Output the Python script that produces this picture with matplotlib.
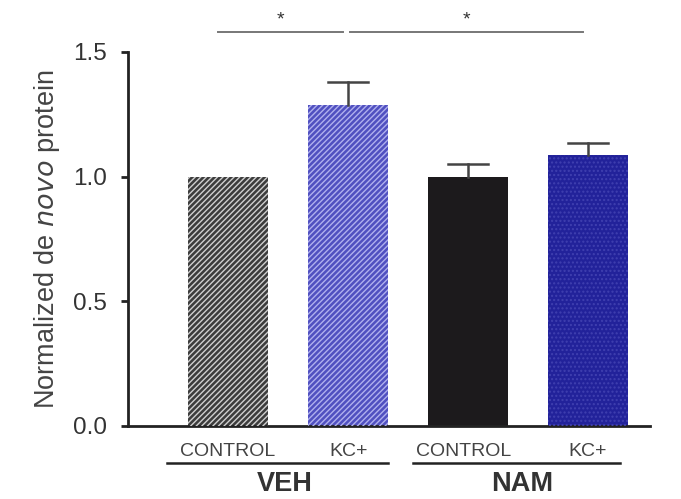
import matplotlib.pyplot as plt
import matplotlib.transforms as mtransforms

plt.rcParams['font.family'] = ['Liberation Sans', 'DejaVu Sans']

conditions = ["CONTROL", "KC+", "CONTROL", "KC+"]
groups = ["VEH", "NAM"]
values = [1.0, 1.288, 1.0, 1.087]
errors = [0.0, 0.092, 0.052, 0.048]
sig_pairs = [(0, 1), (1, 3)]

fig = plt.figure(figsize=(6.81, 4.99), dpi=100)
ax = fig.add_axes([128/681, (499-426)/499, (650-128)/681, (426-52)/499])

face = ['#3c3c3c', '#5050c0', '#1c1a1c', '#22229a']
hatches = ['//////', '//////', None, '....']
hatch_cols = ['#d0d0d0', '#b0b0ee', None, '#4040b0']
x = list(range(len(values)))
for i in x:
    ax.bar(i, values[i], width=0.667, color=face[i], linewidth=0, zorder=2)
    if hatches[i]:
        ax.bar(i, values[i], width=0.667, color='none', edgecolor=hatch_cols[i],
               hatch=hatches[i], linewidth=0, zorder=3)
    if errors[i] > 0:
        top = values[i] + errors[i]
        ax.plot([i, i], [values[i], top], color='#444444', lw=1.8, zorder=4)
        ax.plot([i - 0.17, i + 0.17], [top, top], color='#444444', lw=1.8, zorder=4)

ax.set_xlim(-0.833, 3.517)
ax.set_ylim(0, 1.5)
ax.set_yticks([0.0, 0.5, 1.0, 1.5])
ax.set_yticklabels(['0.0', '0.5', '1.0', '1.5'], fontsize=17.5, color='#333333')
ax.set_xticks([])
for s in ['top', 'right']:
    ax.spines[s].set_visible(False)
for s in ['left', 'bottom']:
    ax.spines[s].set_linewidth(2.0)
    ax.spines[s].set_color('#222222')
ax.tick_params(axis='y', length=5, width=2.0, color='#222222', pad=10)
ax.set_ylabel('Normalized de $\\it{novo}$ protein', fontsize=19.5, color='#444444', labelpad=8)

trans = mtransforms.blended_transform_factory(ax.transData, fig.transFigure)
def fy(py):
    return (499 - py) / 499
def dx(px):
    return (px - 228) / 120

label_px = [228, 349, 464, 588]
for i, c in enumerate(conditions):
    ax.text(dx(label_px[i]), fy(451), c, transform=trans, ha='center', va='center',
            fontsize=14, color='#444444', clip_on=False)
underl = [(167, 388), (413, 620)]
group_px = [285, 522]
for g in range(len(groups)):
    ax.plot([dx(underl[g][0]), dx(underl[g][1])], [fy(463), fy(463)], transform=trans,
            color='#222222', lw=1.8, clip_on=False)
    ax.text(dx(group_px[g]), fy(484), groups[g], transform=trans, ha='center', va='center',
            fontsize=19.5, color='#333333', fontweight='bold', clip_on=False)

sig_x = [(218, 343), (350, 583)]
for (a, b), (px0, px1) in zip(sig_pairs, sig_x):
    xa, xb = dx(px0), dx(px1)
    ax.plot([xa, xb], [fy(32), fy(32)], transform=trans, color='#777777', lw=1.4, clip_on=False)
    ax.text((xa + xb) / 2, fy(20), '*', transform=trans, ha='center', va='center',
            fontsize=14, color='#333333', clip_on=False)

fig.savefig('out.png', dpi=100)
